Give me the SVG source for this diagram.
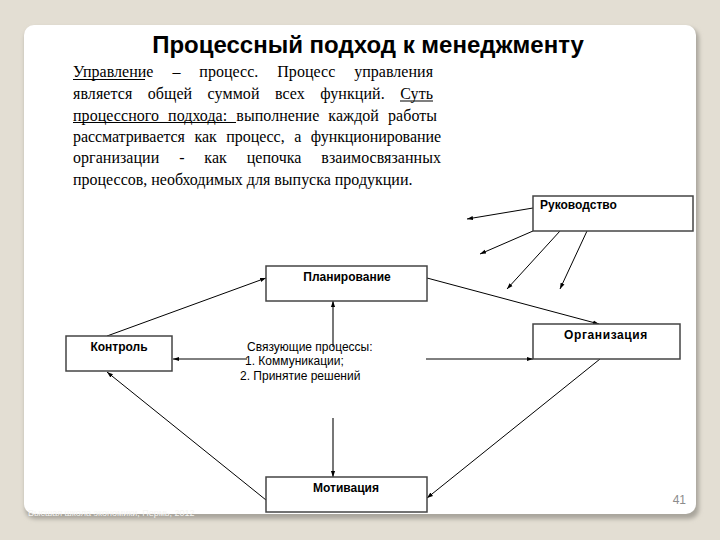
<svg xmlns="http://www.w3.org/2000/svg" width="720" height="540" viewBox="0 0 720 540">
<defs>
<filter id="sh" x="-5%" y="-5%" width="110%" height="110%"><feGaussianBlur stdDeviation="2"/></filter>
<marker id="ah" viewBox="0 0 10 10" refX="10" refY="5" markerWidth="6" markerHeight="6" orient="auto" markerUnits="userSpaceOnUse"><path d="M0,1.5 L10,5 L0,8.5 z" fill="#000"/></marker>
<style>
.bg{fill:#e3ded3}
.card{fill:#fff}
.title{font-family:"Liberation Sans",Arial,sans-serif;font-weight:bold;font-size:24px;fill:#000}
.p{font-family:"Liberation Serif","Times New Roman",serif;font-size:16px;fill:#000}
.ul{stroke:#000;stroke-width:1}
.box{fill:#fff;stroke:#444;stroke-width:1.5}
.lbl{font-family:"Liberation Sans",Arial,sans-serif;font-weight:bold;font-size:12px;fill:#000}
.mid{font-family:"Liberation Sans",Arial,sans-serif;font-size:12px;fill:#000}
.c{stroke:#000;stroke-width:1;fill:none;marker-end:url(#ah)}
.cg{stroke:#555;stroke-width:1.6;fill:none;marker-end:url(#ah)}
</style>
</defs>
<rect class="bg" x="0" y="0" width="720" height="540"/>
<rect x="25" y="28" width="674" height="491" rx="10" fill="#a9a59c" filter="url(#sh)"/>
<rect class="card" x="24" y="25" width="672" height="489" rx="10"/>

<text class="title" x="368" y="53" text-anchor="middle">Процессный подход к менеджменту</text>

<g id="paragraph" transform="matrix(1,0,0,1.1,0,0)">
<text class="p" x="73" y="70.45" word-spacing="14.9" textLength="360" lengthAdjust="spacing">Управление – процесс. Процесс управления</text>
<text class="p" x="73" y="90" word-spacing="11.3" textLength="360" lengthAdjust="spacing">является общей суммой всех функций. Суть</text>
<text class="p" x="73" y="109.55" word-spacing="5" textLength="364" lengthAdjust="spacing">процессного подхода: выполнение каждой работы</text>
<text class="p" x="73" y="129.09" word-spacing="5.7" textLength="368" lengthAdjust="spacing">рассматривается как процесс, а функционирование</text>
<text class="p" x="73" y="148.64" word-spacing="15.8" textLength="368" lengthAdjust="spacing">организации - как цепочка взаимосвязанных</text>
<text class="p" x="73" y="168.18">процессов, необходимых для выпуска продукции.</text>
<line class="ul" x1="73" y1="72.3" x2="145" y2="72.3"/>
<line class="ul" x1="400" y1="91.8" x2="433" y2="91.8"/>
<line class="ul" x1="73" y1="111.4" x2="236" y2="111.4"/>
</g>

<g id="connectors">
<line class="c" x1="533" y1="208" x2="467" y2="219"/>
<line class="c" x1="533" y1="231" x2="480" y2="254"/>
<line class="c" x1="560" y1="231" x2="507" y2="289"/>
<line class="c" x1="587" y1="231" x2="560" y2="289"/>
<line class="c" x1="427" y1="278" x2="599" y2="324"/>
<line class="c" x1="107" y1="336" x2="266" y2="278"/>
<line class="cg" x1="333" y1="347" x2="333" y2="301"/>
<line class="c" x1="247" y1="359" x2="173" y2="359"/>
<line class="c" x1="426" y1="359" x2="533" y2="359"/>
<line class="cg" x1="333" y1="418" x2="333" y2="477"/>
<line class="c" x1="600" y1="359" x2="427" y2="498"/>
<line class="c" x1="266" y1="500" x2="107" y2="372"/>
</g>

<g id="rukovodstvo">
<rect class="box" x="533" y="196" width="160" height="35"/>
<text class="lbl" x="540" y="209">Руководство</text>
</g>
<g id="planirovanie">
<rect class="box" x="266" y="266" width="161" height="35"/>
<text class="lbl" x="347" y="281" text-anchor="middle">Планирование</text>
</g>
<g id="organizatsiya">
<rect class="box" x="533" y="324" width="147" height="35"/>
<text class="lbl" x="606" y="339" text-anchor="middle" letter-spacing="0.6">Организация</text>
</g>
<g id="kontrol">
<rect class="box" x="66" y="336" width="106" height="35"/>
<text class="lbl" x="119" y="351" text-anchor="middle">Контроль</text>
</g>
<g id="motivatsiya">
<rect class="box" x="266" y="477" width="161" height="35"/>
<text class="lbl" x="346" y="492" text-anchor="middle">Мотивация</text>
</g>
<g id="svyazuyushchie">
<text class="mid" x="247" y="351">Связующие процессы:</text>
<text class="mid" x="245" y="365">1. Коммуникации;</text>
<text class="mid" x="240" y="380">2. Принятие решений</text>
</g>

<text x="686" y="504" text-anchor="end" font-family="'Liberation Sans',Arial,sans-serif" font-size="12" fill="#8c8c8c">41</text>
<text x="28" y="516" font-family="'Liberation Sans',Arial,sans-serif" font-size="9" fill="#f4f4f2">Высшая школа экономики, Пермь, 2012</text>
</svg>
